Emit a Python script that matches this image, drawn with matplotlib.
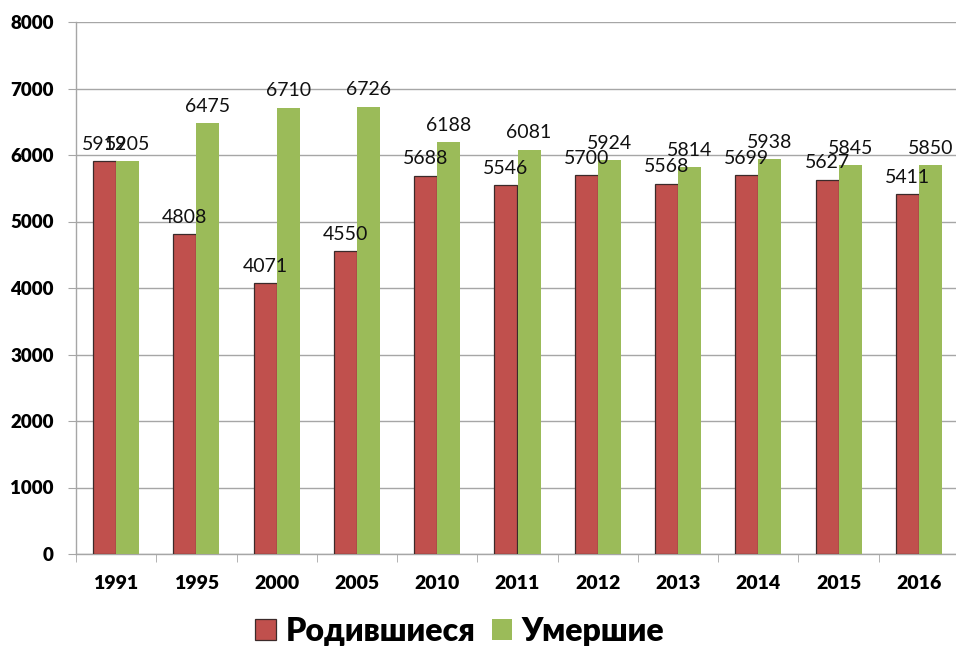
import numpy as np
import matplotlib
matplotlib.use("Agg")
import matplotlib.pyplot as plt
from matplotlib.patches import Patch

years = ["1991", "1995", "2000", "2005", "2010", "2011", "2012", "2013", "2014", "2015", "2016"]
births = [5912, 4808, 4071, 4550, 5688, 5546, 5700, 5568, 5699, 5627, 5411]
deaths = [5905, 6475, 6710, 6726, 6188, 6081, 5924, 5814, 5938, 5845, 5850]
series_names = ["Родившиеся", "Умершие"]

RED = "#C0504D"
GREEN = "#9BBB59"
GRID = "#A6A6A6"

plt.rcParams["font.family"] = ["Lato", "DejaVu Sans"]

fig = plt.figure(figsize=(9.56, 6.47), dpi=100)
ax = fig.add_axes([76 / 956, 93 / 647, 883 / 956, 532 / 647])

x = np.arange(len(years))
w = 0.287
b1 = ax.bar(x - w / 2, births, w, color=RED, edgecolor="#3b2a2a", linewidth=0.9, zorder=3)
b2 = ax.bar(x + w / 2, deaths, w, color=GREEN, edgecolor="none", zorder=3)

for bars in (b1, b2):
    ax.bar_label(bars, padding=6, fontsize=14, color="#111111", zorder=4)

ax.set_xlim(-0.5, len(years) - 0.5)
ax.set_ylim(0, 8000)
ax.set_yticks(np.arange(0, 8001, 1000))
ax.yaxis.grid(True, color=GRID, linewidth=1.0, zorder=0)
ax.set_axisbelow(True)

for s in ("top", "right"):
    ax.spines[s].set_visible(False)
for s in ("left", "bottom"):
    ax.spines[s].set_color(GRID)
    ax.spines[s].set_linewidth(1.0)

ax.set_xticks(x)
ax.set_xticklabels(years, fontsize=14, fontweight="heavy")
ax.set_xticks(np.arange(-0.5, len(years)), minor=True)
ax.tick_params(axis="x", which="major", length=0, pad=15)
ax.tick_params(axis="x", which="minor", length=6, color=GRID, direction="out")
ax.tick_params(axis="y", length=6, color=GRID, pad=10, labelsize=13.5)
for t in ax.get_yticklabels():
    t.set_fontweight("heavy")

handles = [Patch(facecolor=RED, edgecolor="#3b2a2a", linewidth=0.9),
           Patch(facecolor=GREEN, edgecolor="none")]
fig.legend(handles, series_names, loc="center", bbox_to_anchor=(460 / 956, 1 - 631 / 647),
           ncol=2, frameon=False, prop={"size": 23, "weight": "heavy"},
           handlelength=0.65, handleheight=0.65, handletextpad=0.3, columnspacing=0.5,
           borderpad=0.1)

fig.savefig("out.png", dpi=100)
